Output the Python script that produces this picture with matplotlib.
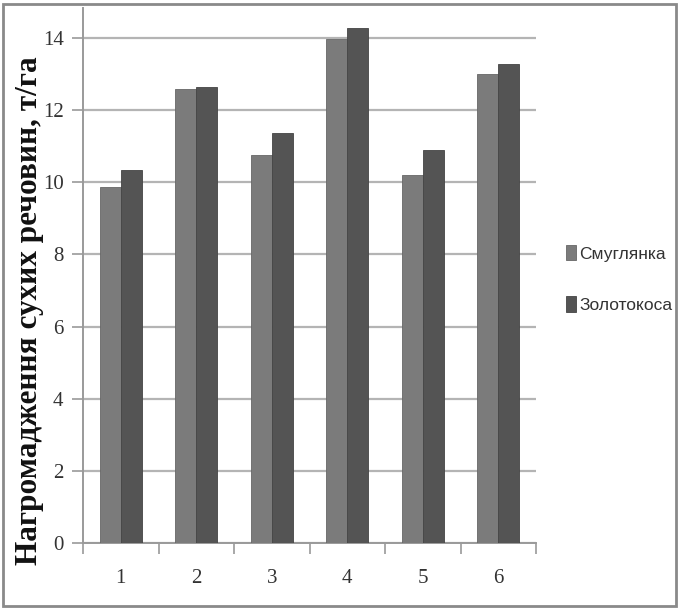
import numpy as np
import matplotlib
matplotlib.use("Agg")
import matplotlib.pyplot as plt
from matplotlib.patches import Rectangle

# data
categories = ["1", "2", "3", "4", "5", "6"]
smuglyanka = [9.87, 12.59, 10.76, 13.97, 10.20, 13.00]
zolotokosa = [10.34, 12.64, 11.37, 14.28, 10.90, 13.28]
series_names = ["Смуглянка", "Золотокоса"]
y_ticks = [0, 2, 4, 6, 8, 10, 12, 14]

color_a = "#7b7b7b"
color_b = "#545454"
grid_c = "#b4b4b4"
spine_c = "#9a9a9a"

fig = plt.figure(figsize=(6.79, 6.10), dpi=100)
ax = fig.add_axes([83/679, (610-543)/610, (536-83)/679, (543-8)/610])

x = np.arange(1, len(categories) + 1)
w = 0.28
ax.bar(x - w/2, smuglyanka, w, color=color_a, edgecolor="#666666", linewidth=0.6,
       label=series_names[0], zorder=3)
ax.bar(x + w/2, zolotokosa, w, color=color_b, edgecolor="#444444", linewidth=0.6,
       label=series_names[1], zorder=3)

ax.set_xlim(0.5, 6.5)
ax.set_ylim(0, 14.83)
ax.set_yticks(y_ticks)
ax.set_yticklabels([str(t) for t in y_ticks])
ax.set_xticks(x)
ax.set_xticklabels(categories)
ax.set_xticks(np.arange(0.5, 7, 1), minor=True)

ax.grid(axis="y", color=grid_c, linewidth=1.6, zorder=0)
for s in ["top", "right"]:
    ax.spines[s].set_visible(False)
for s in ["left", "bottom"]:
    ax.spines[s].set_color(spine_c)
    ax.spines[s].set_linewidth(1.4)

ax.tick_params(axis="y", length=8, width=1.2, color=spine_c, pad=6)
ax.tick_params(axis="x", which="major", length=0, pad=19)
ax.tick_params(axis="x", which="minor", length=8, width=1.2, color=spine_c)
for lab in ax.get_xticklabels() + ax.get_yticklabels():
    lab.set_fontfamily("Liberation Serif")
    lab.set_fontsize(15)
    lab.set_color("#333333")

fig.text(0.043, 0.49, "Нагромадження сухих речовин, т/га", rotation=90,
         ha="center", va="center", fontsize=22.5, fontweight="bold",
         family="Liberation Serif", color="#111111")

leg = ax.legend(loc="center left", bbox_to_anchor=(550/679, (610-279)/610),
                bbox_transform=fig.transFigure, frameon=False,
                handlelength=0.6, handleheight=1.0, handletextpad=0.2,
                labelspacing=2.0,
                prop=dict(family="Liberation Sans", size=12.5))
for t in leg.get_texts():
    t.set_color("#333333")

# grey frame round the whole picture
fig.patches.append(Rectangle((3/679, 4/610), 673/679, 602/610, transform=fig.transFigure,
                             fill=False, edgecolor="#8a8a8a", linewidth=2))

fig.savefig("out.png", dpi=100)
